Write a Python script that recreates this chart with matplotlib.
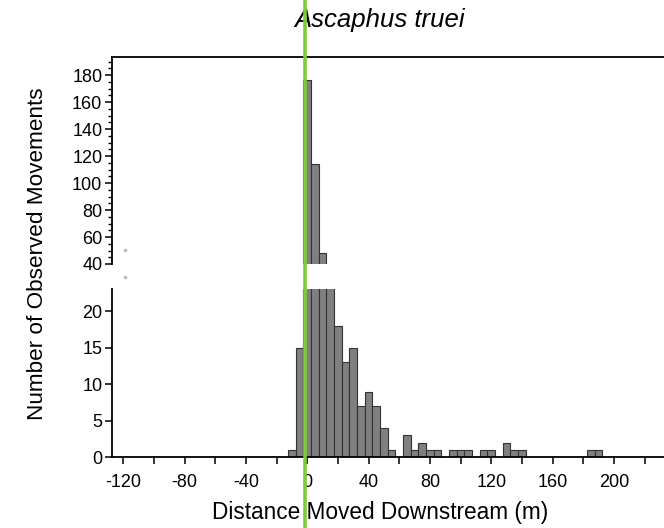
import matplotlib
matplotlib.use("Agg")
import matplotlib.pyplot as plt
from matplotlib.ticker import MultipleLocator, FixedLocator
from matplotlib.lines import Line2D
import matplotlib.transforms as mtransforms

plt.rcParams['font.family'] = ['Liberation Sans', 'DejaVu Sans']

# Histogram bins (centres, m) and counts of observed movements
bin_centers = [-10, -5, 0, 5, 10, 15, 20, 25, 30, 35, 40, 45, 50, 55, 60,
               65, 70, 75, 80, 85, 90, 95, 100, 105, 110, 115, 120, 125,
               130, 135, 140, 145, 150, 155, 160, 165, 170, 175, 180, 185, 190]
counts = [1, 15, 176, 114, 48, 32, 18, 13, 15, 7, 9, 7, 4, 1, 0,
          3, 1, 2, 1, 1, 0, 1, 1, 1, 0, 1, 1, 0,
          2, 1, 1, 0, 0, 0, 0, 0, 0, 0, 0, 1, 1]
bin_width = 5
marker_x = -1.5  # green reference line (origin)

x_major = list(range(-120, 221, 20))
x_labels = [str(v) if v % 40 == 0 else "" for v in x_major]

title = "Ascaphus truei"
xlabel = "Distance Moved Downstream (m)"
ylabel = "Number of Observed Movements"

W, H = 664, 528
fig = plt.figure(figsize=(W / 100, H / 100), dpi=100)

left = 112 / W
right = 1.0
ax_top = fig.add_axes([left, 1 - 264 / H, right - left, (264 - 56.7) / H])
ax_bot = fig.add_axes([left, 1 - 457.3 / H, right - left, (457.3 - 289.3) / H])

xlim = (-127.4, 232.7)
bar_kw = dict(width=bin_width, color='#808080', edgecolor='#333333', linewidth=0.8, align='center')

for ax in (ax_top, ax_bot):
    ax.bar(bin_centers, counts, **bar_kw)
    ax.set_xlim(*xlim)
    ax.spines['right'].set_visible(False)
    for s in ax.spines.values():
        s.set_linewidth(1.3)

ax_top.set_ylim(40, 193.6)
ax_top.spines['bottom'].set_visible(False)
ax_top.tick_params(axis='x', which='both', bottom=False, labelbottom=False)
ax_top.yaxis.set_major_locator(MultipleLocator(20))
ax_top.yaxis.set_minor_locator(MultipleLocator(5))
ax_top.tick_params(axis='y', which='major', length=5, width=1.1, labelsize=13, pad=2)
ax_top.tick_params(axis='y', which='minor', length=3, width=1.0)

ax_bot.set_ylim(0, 23)
ax_bot.spines['top'].set_visible(False)
ax_bot.yaxis.set_major_locator(FixedLocator([0, 5, 10, 15, 20]))
ax_bot.tick_params(axis='y', which='major', length=5, width=1.1, labelsize=13, pad=2)
ax_bot.xaxis.set_major_locator(FixedLocator(x_major))
ax_bot.set_xticklabels(x_labels)
ax_bot.tick_params(axis='x', which='major', length=5, width=1.1, labelsize=13, pad=7)

# break markers
for yy in (250, 277):
    fig.add_artist(Line2D([125 / W], [1 - yy / H], marker='o', markersize=1.5,
                          color='#bbbbbb', linestyle='none', transform=fig.transFigure))

fig.text(380 / W, 1 - 20 / H, title, ha='center', va='center', fontsize=18.5, style='italic')
fig.text(380 / W, 1 - 513 / H, xlabel, ha='center', va='center', fontsize=16.3)
fig.text(38 / W, 1 - 254 / H, ylabel, ha='center', va='center', fontsize=16.2, rotation=90)

trans = mtransforms.blended_transform_factory(ax_bot.transData, fig.transFigure)
fig.add_artist(Line2D([marker_x, marker_x], [0, 1], color='#7ccc3a', linewidth=2.6,
                      transform=trans, zorder=10))

fig.savefig("out.png", dpi=100)
